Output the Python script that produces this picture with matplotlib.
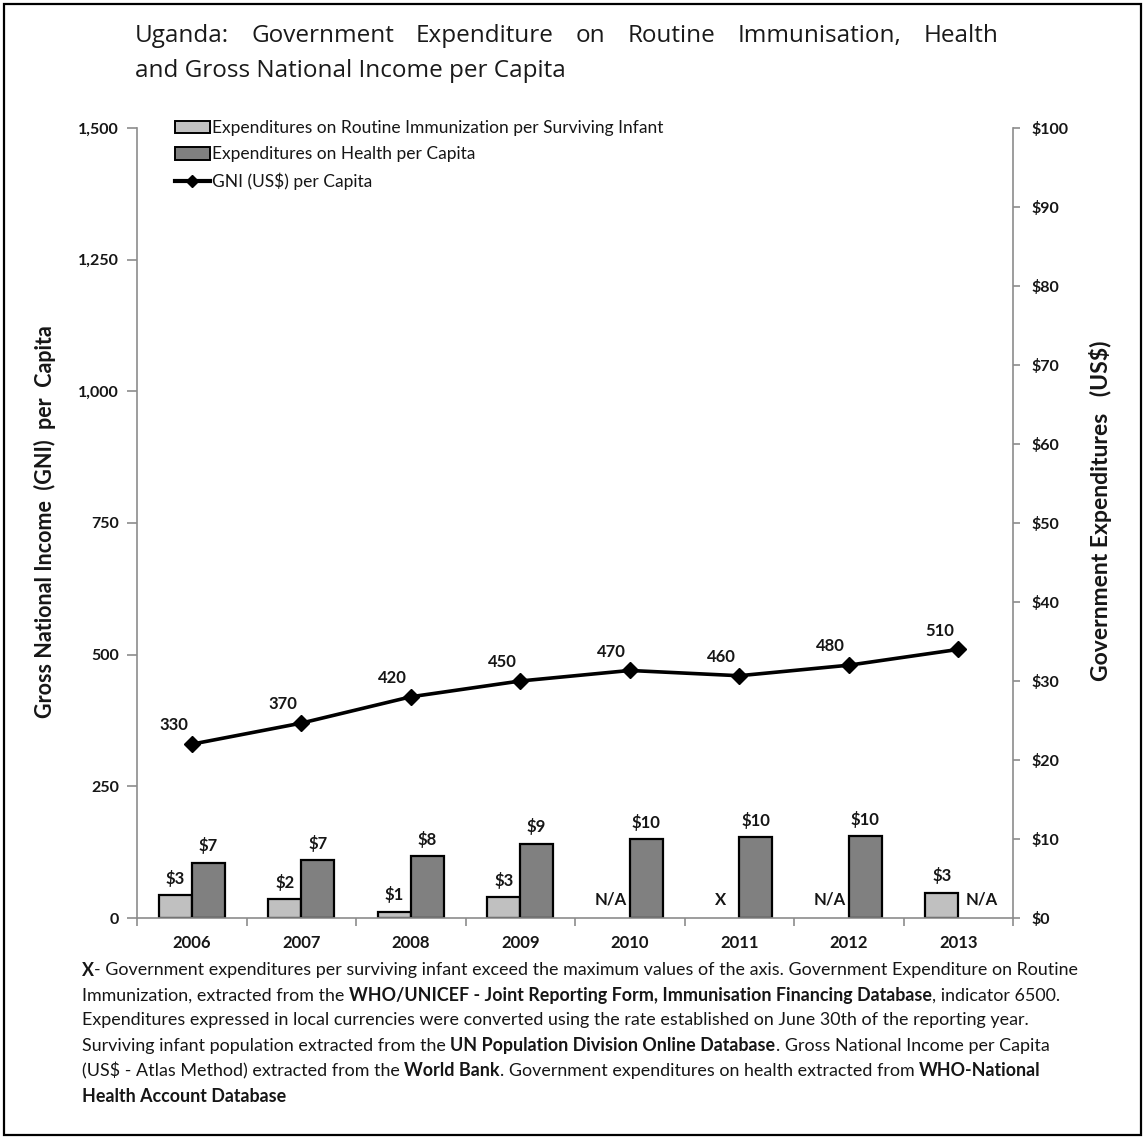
import numpy as np
import matplotlib
matplotlib.use("Agg")
import matplotlib.pyplot as plt
from matplotlib.patches import Patch, Rectangle
from matplotlib.lines import Line2D
from matplotlib.ticker import FixedLocator, FuncFormatter, NullFormatter

# ---- data -------------------------------------------------------------
years = ["2006", "2007", "2008", "2009", "2010", "2011", "2012", "2013"]
gni_per_capita = [330, 370, 420, 450, 470, 460, 480, 510]
immunization_per_infant = [2.9, 2.4, 0.8, 2.6, np.nan, np.nan, np.nan, 3.2]
health_per_capita = [7.0, 7.3, 7.8, 9.4, 10.0, 10.2, 10.4, np.nan]
immunization_flags = ["", "", "", "", "N/A", "X", "N/A", ""]
health_flags = ["", "", "", "", "", "", "", "N/A"]
gni_ticks = [0, 250, 500, 750, 1000, 1250, 1500]
expenditure_ticks = [0, 10, 20, 30, 40, 50, 60, 70, 80, 90, 100]

# ---- style ------------------------------------------------------------
FONT = "Lato"
TXT = "#161616"
LIGHT = "#c0c0c0"
DARK = "#808080"
AXIS_GREY = "#8c8c8c"
SMALL = 12
plt.rcParams["font.family"] = [FONT, "DejaVu Sans"]

W, H = 1146, 1139
fig = plt.figure(figsize=(W / 100, H / 100), dpi=100)
fig.patch.set_facecolor("white")

def fx(px):
    return px / W

def fy(py):
    return 1 - py / H

# outer frame
fig.add_artist(Rectangle((fx(4), fy(1135)), fx(1141) - fx(4), fy(4) - fy(1135),
                         transform=fig.transFigure, fill=False, ec="black", lw=1.6))

left, right, top, bottom = 137, 1013, 128, 918
ax = fig.add_axes([fx(left), fy(bottom), fx(right) - fx(left), fy(top) - fy(bottom)])
ax2 = ax.twinx()

x = np.arange(len(years))
bw = 0.3

# bars on the expenditure scale (right-hand axis)
ax.bar(x - bw / 2, immunization_per_infant, bw, color=LIGHT, edgecolor="black", lw=1.6, zorder=2)
ax.bar(x + bw / 2, health_per_capita, bw, color=DARK, edgecolor="black", lw=1.6, zorder=2)
ax.set_ylim(0, 100)
ax.set_xlim(-0.5, len(years) - 0.5)

lab_kw = dict(fontsize=SMALL, fontweight="bold", color=TXT, ha="center", va="bottom")
for xi, v in zip(x, immunization_per_infant):
    if not np.isnan(v):
        ax.annotate(f"${v:.0f}", (xi - bw / 2, v), xytext=(0, 6), textcoords="offset points", **lab_kw)
for xi, v in zip(x, health_per_capita):
    if not np.isnan(v):
        ax.annotate(f"${v:.0f}", (xi + bw / 2, v), xytext=(0, 6), textcoords="offset points", **lab_kw)
flag_kw = dict(fontsize=SMALL, fontweight="bold", color=TXT, ha="center", va="center")
for xi, f in zip(x, immunization_flags):
    if f:
        ax.annotate(f, (xi - bw / 2, 0), xytext=(-2, 13), textcoords="offset points", **flag_kw)
for xi, f in zip(x, health_flags):
    if f:
        ax.annotate(f, (xi + bw / 2, 0), xytext=(5, 13), textcoords="offset points", **flag_kw)

# GNI line on the left-hand axis
ax2.plot(x, gni_per_capita, color="black", lw=2.6, marker="D", ms=8.5, zorder=3)
ax2.set_ylim(0, 1500)
for xi, v in zip(x, gni_per_capita):
    ax2.annotate(f"{v}", (xi, v), xytext=(-13, 13.5), textcoords="offset points",
                 fontsize=SMALL, fontweight="bold", color=TXT, ha="center", va="center")

# axes / ticks
ax.yaxis.tick_right()
ax.yaxis.set_label_position("right")
ax2.yaxis.tick_left()
ax2.yaxis.set_label_position("left")

ax.yaxis.set_major_locator(FixedLocator(expenditure_ticks))
ax.yaxis.set_major_formatter(FuncFormatter(lambda v, p: f"${v:.0f}"))
ax2.yaxis.set_major_locator(FixedLocator(gni_ticks))
ax2.yaxis.set_major_formatter(FuncFormatter(lambda v, p: f"{v:,.0f}"))

ax.xaxis.set_major_locator(FixedLocator(np.arange(-0.5, len(years), 1.0)))
ax.xaxis.set_major_formatter(NullFormatter())
ax.set_xticks(x, years, minor=True)
ax.tick_params(axis="x", which="major", direction="out", length=6, width=1.2, color=AXIS_GREY)
ax.tick_params(axis="x", which="minor", length=0, pad=12, labelsize=SMALL, labelcolor=TXT)
ax.tick_params(axis="y", direction="out", length=5, width=1.2, color=AXIS_GREY,
               labelsize=11.5, labelcolor=TXT, pad=8)
ax2.tick_params(axis="y", direction="out", length=7, width=1.2, color=AXIS_GREY,
                labelsize=11.5, labelcolor=TXT, pad=6)
for t in ax.get_xticklabels(minor=True) + ax.get_yticklabels() + ax2.get_yticklabels():
    t.set_fontweight("bold")

ax.spines["top"].set_visible(False)
for s in ["left", "right", "bottom"]:
    ax.spines[s].set_color(AXIS_GREY)
    ax.spines[s].set_linewidth(1.2)
for s in ax2.spines.values():
    s.set_visible(False)

fig.text(fx(45), fy(522), "Gross National Income  (GNI)  per  Capita", rotation=90,
         ha="center", va="center", fontsize=15.5, fontweight="bold", color=TXT)
fig.text(fx(1100), fy(511), "Government Expenditures   (US$)", rotation=90,
         ha="center", va="center", fontsize=16.5, fontweight="bold", color=TXT)

# legend
handles = [Patch(fc=LIGHT, ec="black", lw=1.4),
           Patch(fc=DARK, ec="black", lw=1.4),
           Line2D([], [], color="black", lw=3, marker="D", ms=6)]
labels = ["Expenditures on Routine Immunization per Surviving Infant",
          "Expenditures on Health per Capita",
          "GNI (US$) per Capita"]
leg = fig.legend(handles, labels, loc="upper left", bbox_to_anchor=(fx(175), fy(120)),
                 frameon=False, fontsize=12.5, labelspacing=0.6, handlelength=2.0,
                 handleheight=0.75, handletextpad=0.15, borderaxespad=0, borderpad=0)
for t in leg.get_texts():
    t.set_color(TXT)

# ---- title (first line justified) -------------------------------------
renderer = fig.canvas.get_renderer()
title_kw = dict(fontsize=17.5, family="Open Sans", color="#1a1a1a", va="center", ha="left")
words = "Uganda: Government Expenditure on Routine Immunisation, Health".split()
widths = []
arts = []
for w_ in words:
    t = fig.text(0, fy(36), w_, **title_kw)
    widths.append(t.get_window_extent(renderer).width)
    arts.append(t)
span = 998 - 135
gap = (span - sum(widths)) / (len(words) - 1)
cur = 135
for t, wd in zip(arts, widths):
    t.set_x(fx(cur))
    cur += wd + gap
fig.text(fx(135), fy(71), "and Gross National Income per Capita", **title_kw)

# ---- footnote with bold source names -----------------------------------
note_lines = [
    [("X", "bold"), ("- Government expenditures per surviving infant exceed the maximum values of the axis. Government Expenditure on Routine", "normal")],
    [("Immunization, extracted from the ", "normal"),
     ("WHO/UNICEF - Joint Reporting Form, Immunisation Financing Database", "bold"),
     (", indicator 6500.", "normal")],
    [("Expenditures expressed in local currencies were converted using the rate established on June 30th of the reporting year.", "normal")],
    [("Surviving infant population extracted from the ", "normal"),
     ("UN Population Division Online Database", "bold"),
     (". Gross National Income per Capita", "normal")],
    [("(US$ - Atlas Method) extracted from the ", "normal"), ("World Bank", "bold"),
     (". Government expenditures on health extracted from ", "normal"), ("WHO-National", "bold")],
    [("Health Account Database", "bold")],
]
y0, dy = 970, 25.2
for i, segs in enumerate(note_lines):
    cur = 82
    for txt, wt in segs:
        t = fig.text(fx(cur), fy(y0 + i * dy), txt, fontsize=12.9, fontweight=wt,
                     color=TXT, ha="left", va="center")
        cur += t.get_window_extent(renderer).width

fig.savefig("out.png", dpi=100, facecolor="white")
